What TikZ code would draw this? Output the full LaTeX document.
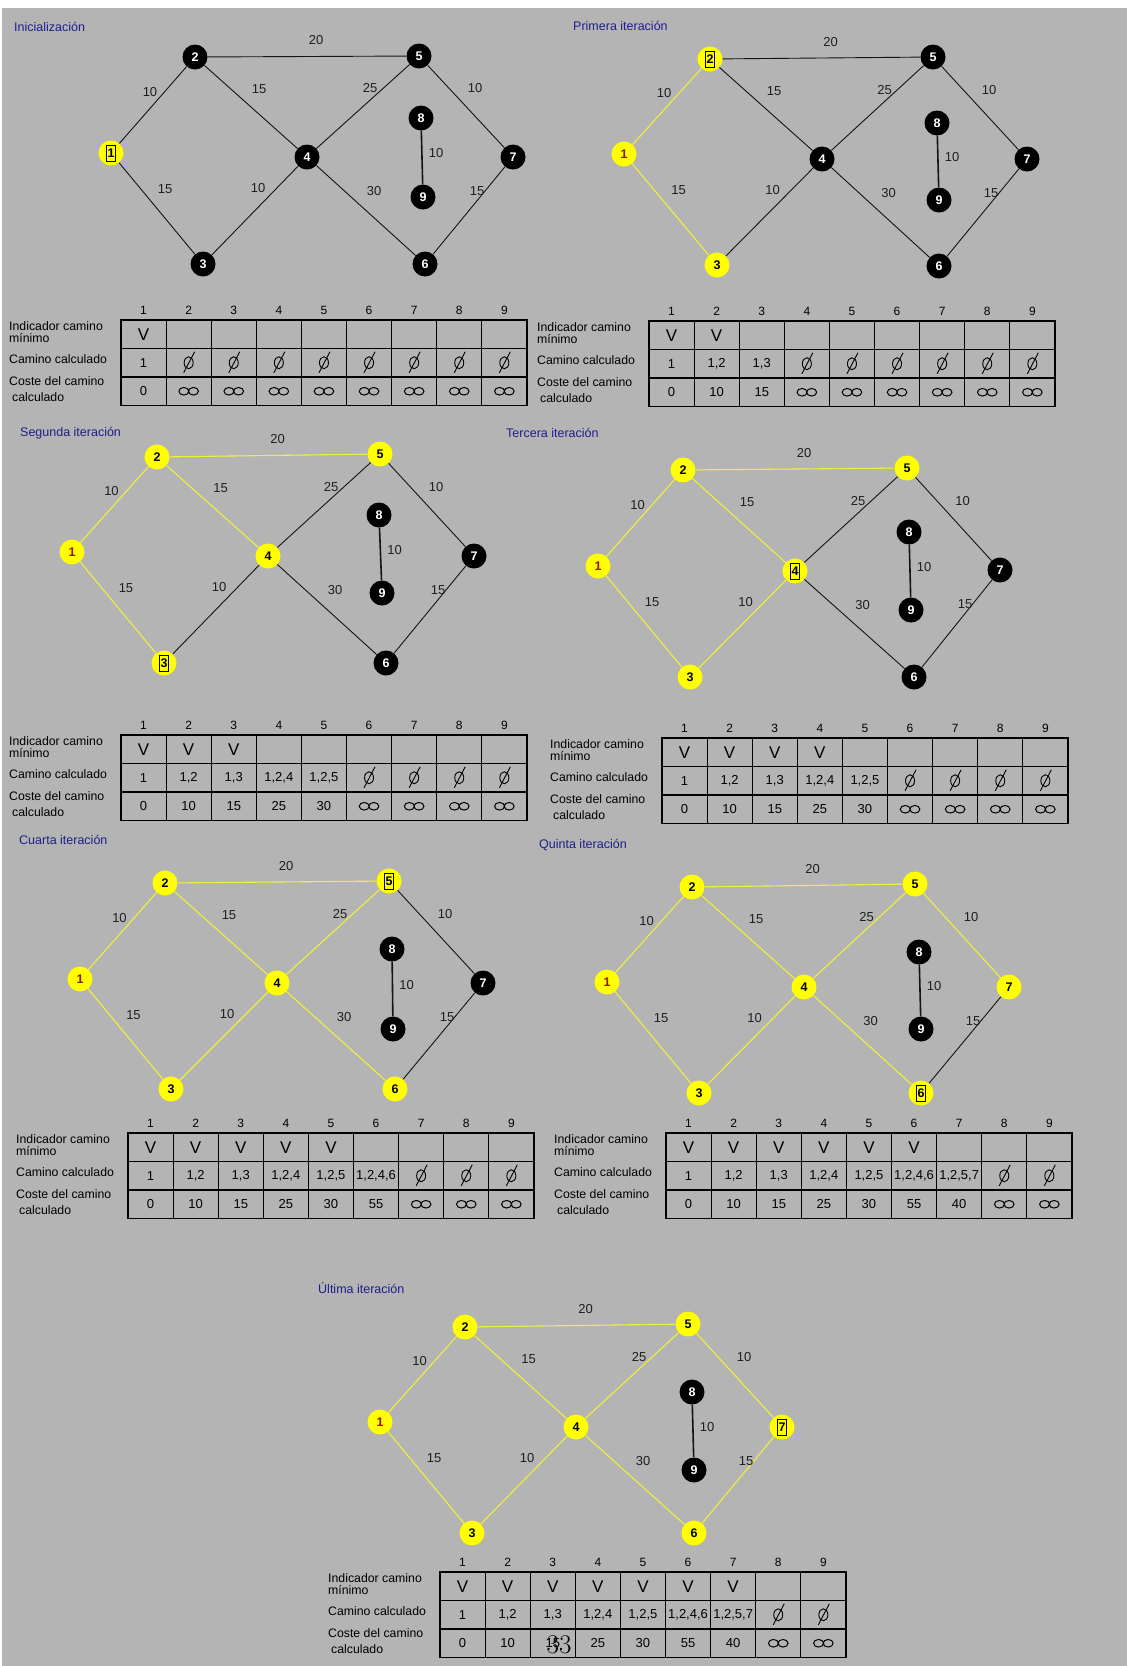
\documentclass[tikz,border=0pt]{standalone}
\usepackage{fontspec}
\setsansfont{Liberation Sans}
\renewcommand{\familydefault}{\sfdefault}
\usetikzlibrary{calc}
\definecolor{fondo}{RGB}{180,180,180}
\definecolor{titulo}{RGB}{30,30,140}
\definecolor{rojo}{RGB}{150,20,0}
\definecolor{amarillo}{RGB}{255,255,0}
\definecolor{lineaam}{RGB}{240,240,60}
\definecolor{linea}{RGB}{20,20,20}
\newcommand{\nf}{\fontsize{12.5}{12.5}\selectfont\bfseries}
\tikzset{
 bn/.style={circle, fill=black, text=white, minimum size=25pt, inner sep=0pt, font=\nf},
 yn/.style={bn, fill=amarillo, text=black},
 yr/.style={yn, text=rojo},
 be/.style={draw=linea, line width=0.9pt},
 bt/.style={draw=linea, line width=1.6pt},
 ye/.style={draw=lineaam, line width=1.1pt},
 elab/.style={font=\fontsize{13}{13}\selectfont, inner sep=0pt, text=black!88},
 tit/.style={anchor=west, inner sep=0pt, text=titulo, font=\fontsize{12.5}{12.5}\selectfont},
 rlab/.style={anchor=west, inner sep=0pt, font=\fontsize{12.3}{12.3}\selectfont},
 celda/.style={inner sep=0pt, font=\fontsize{13}{13}\selectfont},
 cabeza/.style={inner sep=0pt, font=\fontsize{12}{12}\selectfont},
 uve/.style={inner sep=0pt, font=\fontsize{17}{17}\selectfont},
 tabline/.style={draw=black, line width=1.1pt},
 caja/.style={draw=black, line width=0.9pt, minimum width=9pt, minimum height=16pt, inner sep=0pt},
 vacio/.pic={\draw[line width=0.9pt] (0,0) ellipse (4.5pt and 6pt); \draw[line width=0.9pt] (-5,10) -- (6,-11);},
 infin/.pic={\draw[line width=1pt] (-4.8,0) ellipse (5pt and 3.8pt) (4.8,0) ellipse (5pt and 3.8pt);},
}
% edge: stage, threshold, from, to, label, dx, dy
\newcommand{\ari}[7]{%
 \ifnum#1<#2\relax \draw[be] (#3) -- (#4);\else \draw[ye] (#3) -- (#4);\fi
 \node[elab] (#3#4) at ($(#3)!0.5!(#4)+(#6,#7)$) {#5};}
\newcommand{\aristas}[2]{%
 \ari{#2}{1}{#11}{#12}{10}{-3}{-13}%
 \ari{#2}{1}{#11}{#13}{15}{8}{-19}%
 \ari{#2}{2}{#12}{#15}{20}{9}{-16}%
 \ari{#2}{2}{#12}{#14}{15}{8}{-18}%
 \ari{#2}{3}{#13}{#14}{10}{3}{-22}%
 \ari{#2}{4}{#14}{#15}{25}{7}{-18}%
 \ari{#2}{4}{#14}{#16}{30}{8}{-19}%
 \ari{#2}{5}{#15}{#17}{10}{9}{-18}%
 \ari{#2}{6}{#16}{#17}{15}{8}{-19}%
 \draw[bt] (#18) -- (#19);
 \node[elab] (#18#19) at ($(#18)!0.5!(#19)+(14,-4)$) {10};}
% table: prefix, x0, y0, nV, row2, row3, nfilled
\newcommand{\tabla}[7]{%
 \begin{scope}[shift={(#2,#3)}]
  \draw[tabline] (0,0) rectangle (406,85.5);
  \draw[tabline] (0,28.5) -- (406,28.5) (0,57) -- (406,57);
  \foreach \i in {1,...,8} \draw[tabline] (\i*45.1,0) -- (\i*45.1,85.5);
  \foreach \i in {1,...,9} \node[cabeza] (#1h\i) at ({(\i-0.5)*45.1},-9.5) {\i};
  \node[rlab] (#1l1) at (-112,6) {Indicador camino};
  \node[rlab] (#1l2) at (-112,18) {mínimo};
  \node[rlab] (#1l3) at (-112,39) {Camino calculado};
  \node[rlab] (#1l4) at (-112,61) {Coste del camino};
  \node[rlab] (#1l5) at (-109,77) {calculado};
  \foreach \i in {1,...,#4} \node[uve] (#1v\i) at ({(\i-0.5)*45.1},14.5) {V};
  \foreach \t [count=\i] in {#5} \node[celda] (#1c\i) at ({(\i-0.5)*45.1},42.75) {\t};
  \foreach \t [count=\i] in {#6} \node[celda] (#1k\i) at ({(\i-0.5)*45.1},71.25) {\t};
  \pgfmathtruncatemacro\inicio{#7+1}
  \foreach \i in {\inicio,...,9} {\pic at ({(\i-0.5)*45.1},42.75) {vacio}; \pic at ({(\i-0.5)*45.1},71.25) {infin};}
 \end{scope}}
\begin{document}
\begin{tikzpicture}[x=1pt,y=-1pt]
\fill[white] (0,0) rectangle (1127,1666);
\fill[fondo] (2,8) rectangle (1127,1666);
\useasboundingbox (0,0) rectangle (1127,1666);

% ---------- Panel 1
\node[tit] (t1) at (14,27) {Inicialización};
\node[yn] (a1) at (111,153) {1};
\node[bn] (a2) at (195,57) {2};
\node[bn] (a3) at (203,264) {3};
\node[bn] (a4) at (307,157) {4};
\node[bn] (a5) at (419,56) {5};
\node[bn] (a6) at (425,264) {6};
\node[bn] (a7) at (513,157) {7};
\node[bn] (a8) at (421,118) {8};
\node[bn] (a9) at (423,197) {9};
\node[caja] (a1b) at (a1) {};
\aristas{a}{0}
\tabla{p}{121}{320}{1}{1}{0}{1}

% ---------- Panel 2
\node[tit] (t2) at (573,26) {Primera iteración};
\node[yr] (b1) at (624,154) {1};
\node[yn] (b2) at (710,59) {2};
\node[yn] (b3) at (717,265) {3};
\node[bn] (b4) at (822,159) {4};
\node[bn] (b5) at (933,57) {5};
\node[bn] (b6) at (939,266) {6};
\node[bn] (b7) at (1027,159) {7};
\node[bn] (b8) at (937,123) {8};
\node[bn] (b9) at (939,200) {9};
\node[caja] (b2b) at (b2) {};
\aristas{b}{1}
\tabla{q}{649}{321}{2}{1,{1,2},{1,3}}{0,10,15}{3}

% ---------- Panel 3
\node[tit] (t3) at (20,433) {Segunda iteración};
\node[yr] (c1) at (72,552) {1};
\node[yn] (c2) at (157,457) {2};
\node[yn] (c3) at (164,663) {3};
\node[yn] (c4) at (268,556) {4};
\node[yn] (c5) at (380,454) {5};
\node[bn] (c6) at (386,663) {6};
\node[bn] (c7) at (474,556) {7};
\node[bn] (c8) at (379,515) {8};
\node[bn] (c9) at (382,593) {9};
\node[caja] (c3b) at (c3) {};
\aristas{c}{2}
\tabla{r}{121}{735}{3}{1,{1,2},{1,3},{1,2,4},{1,2,5}}{0,10,15,25,30}{5}

% ---------- Panel 4
\node[tit] (t4) at (506,433) {Tercera iteración};
\node[yr] (d1) at (598,566) {1};
\node[yn] (d2) at (683,470) {2};
\node[yn] (d3) at (690,677) {3};
\node[yn] (d4) at (795,571) {4};
\node[yn] (d5) at (907,468) {5};
\node[bn] (d6) at (914,677) {6};
\node[bn] (d7) at (1000,570) {7};
\node[bn] (d8) at (909,532) {8};
\node[bn] (d9) at (911,610) {9};
\node[caja] (d4b) at (d4) {};
\aristas{d}{3}
\tabla{s}{662}{738}{4}{1,{1,2},{1,3},{1,2,4},{1,2,5}}{0,10,15,25,30}{5}

% ---------- Panel 5
\node[tit] (t5) at (19,840) {Cuarta iteración};
\node[yr] (e1) at (80,979) {1};
\node[yn] (e2) at (165,883) {2};
\node[yn] (e3) at (171,1089) {3};
\node[yn] (e4) at (277,983) {4};
\node[yn] (e5) at (389,881) {5};
\node[yn] (e6) at (395,1089) {6};
\node[bn] (e7) at (483,983) {7};
\node[bn] (e8) at (392,949) {8};
\node[bn] (e9) at (393,1029) {9};
\node[caja] (e5b) at (e5) {};
\aristas{e}{4}
\tabla{u}{128}{1133}{5}{1,{1,2},{1,3},{1,2,4},{1,2,5},{1,2,4,6}}{0,10,15,25,30,55}{6}

% ---------- Panel 6
\node[tit] (t6) at (539,845) {Quinta iteración};
\node[yr] (f1) at (607,982) {1};
\node[yn] (f2) at (692,887) {2};
\node[yn] (f3) at (699,1093) {3};
\node[yn] (f4) at (804,987) {4};
\node[yn] (f5) at (915,884) {5};
\node[yn] (f6) at (921,1093) {6};
\node[yn] (f7) at (1009,987) {7};
\node[bn] (f8) at (919,952) {8};
\node[bn] (f9) at (921,1029) {9};
\node[caja] (f6b) at (f6) {};
\aristas{f}{5}
\tabla{v}{666}{1133}{6}{1,{1,2},{1,3},{1,2,4},{1,2,5},{1,2,4,6},{1,2,5,7}}{0,10,15,25,30,55,40}{7}

% ---------- Panel 7
\node[tit] (t7) at (318,1288) {Última iteración};
\node[yr] (g1) at (380,1422) {1};
\node[yn] (g2) at (465,1327) {2};
\node[yn] (g3) at (472,1533) {3};
\node[yn] (g4) at (576,1427) {4};
\node[yn] (g5) at (688,1324) {5};
\node[yn] (g6) at (694,1533) {6};
\node[yn] (g7) at (782,1427) {7};
\node[bn] (g8) at (692,1392) {8};
\node[bn] (g9) at (694,1470) {9};
\node[caja] (g7b) at (g7) {};
\aristas{g}{6}
\tabla{w}{440}{1572}{7}{1,{1,2},{1,3},{1,2,4},{1,2,5},{1,2,4,6},{1,2,5,7}}{0,10,15,25,30,55,40}{7}

% page number overlay
\node[inner sep=0pt, font=\rmfamily\fontsize{27}{27}\selectfont] (pagina) at (559,1645) {33};
\end{tikzpicture}
\end{document}
